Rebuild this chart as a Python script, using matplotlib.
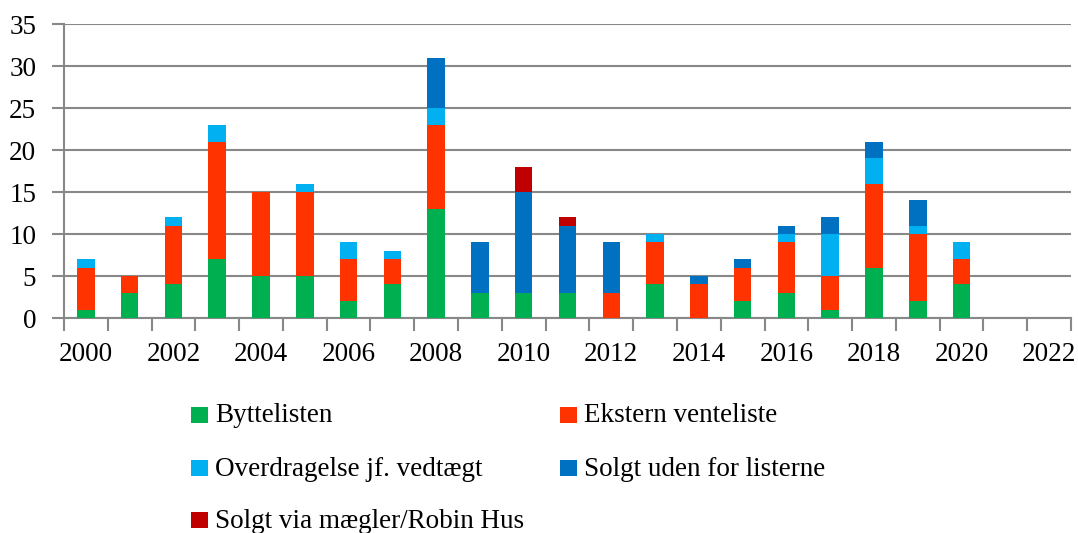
import matplotlib
matplotlib.use("Agg")
import matplotlib.pyplot as plt
import numpy as np
from matplotlib.patches import Rectangle

YEARS = list(range(2000, 2023))

# values per year, 2000..2022
BYTTELISTEN = [1, 3, 4, 7, 5, 5, 2, 4, 13, 3, 3, 3, 0, 4, 0, 2, 3, 1, 6, 2, 4, 0, 0]
EKSTERN     = [5, 2, 7, 14, 10, 10, 5, 3, 10, 0, 0, 0, 3, 5, 4, 4, 6, 4, 10, 8, 3, 0, 0]
OVERDRAG    = [1, 0, 1, 2, 0, 1, 2, 1, 2, 0, 0, 0, 0, 1, 0, 0, 1, 5, 3, 1, 2, 0, 0]
SOLGT_UDEN  = [0, 0, 0, 0, 0, 0, 0, 0, 6, 6, 12, 8, 6, 0, 1, 1, 1, 2, 2, 3, 0, 0, 0]
SOLGT_VIA   = [0, 0, 0, 0, 0, 0, 0, 0, 0, 0, 3, 1, 0, 0, 0, 0, 0, 0, 0, 0, 0, 0, 0]

SERIES = [
    ("Byttelisten",                BYTTELISTEN, "#00B050"),
    ("Ekstern venteliste",         EKSTERN,     "#FF3300"),
    ("Overdragelse jf. vedtægt",   OVERDRAG,    "#00B0F0"),
    ("Solgt uden for listerne",    SOLGT_UDEN,  "#0070C0"),
    ("Solgt via mægler/Robin Hus", SOLGT_VIA,   "#C00000"),
]

GRID = "#888888"
FS = 19.5
plt.rcParams["font.family"] = ["Liberation Serif", "DejaVu Serif"]

fig = plt.figure(figsize=(10.78, 5.33), dpi=100)
ax = fig.add_axes([64 / 1078, 1 - 318 / 533, (1071 - 64) / 1078, (318 - 24) / 533])

x = np.arange(len(YEARS))
bottom = np.zeros(len(YEARS))
for label, vals, color in SERIES:
    vals = np.array(vals, dtype=float)
    ax.bar(x, vals, width=0.4, bottom=bottom, color=color, linewidth=0, zorder=3)
    bottom += vals

ax.set_xlim(-0.5, len(YEARS) - 0.5)
ax.set_ylim(0, 35)
ax.set_yticks(np.arange(0, 36, 5))
ax.yaxis.grid(True, color=GRID, linewidth=1.5, zorder=0)
ax.set_axisbelow(True)

ax.set_xticks(x[::2])
ax.set_xticklabels([str(y) for y in YEARS[::2]])
ax.set_xticks(np.arange(-0.5, len(YEARS), 1), minor=True)
ax.tick_params(axis="x", which="major", length=0, pad=17, labelsize=FS)
ax.tick_params(axis="x", which="minor", length=9, width=1.5, color=GRID, direction="out")
ax.tick_params(axis="y", length=9, width=1.5, color=GRID, pad=11, labelsize=FS)

for s in ["top", "right"]:
    ax.spines[s].set_visible(False)
for s in ["left", "bottom"]:
    ax.spines[s].set_color(GRID)
    ax.spines[s].set_linewidth(1.5)

# legend drawn in figure coordinates, 2 columns
leg_pos = [(191, 415), (560, 415), (191, 468), (560, 468), (191, 520)]
for (label, _, color), (px, py) in zip(SERIES, leg_pos):
    fig.patches.append(Rectangle((px / 1078, 1 - (py + 8) / 533), 17 / 1078, 16 / 533,
                                 transform=fig.transFigure, facecolor=color, edgecolor="none"))
    fig.text((px + 24) / 1078, 1 - (py + 1) / 533, label, fontsize=FS, va="center", ha="left")

fig.savefig("out.png", dpi=100)
